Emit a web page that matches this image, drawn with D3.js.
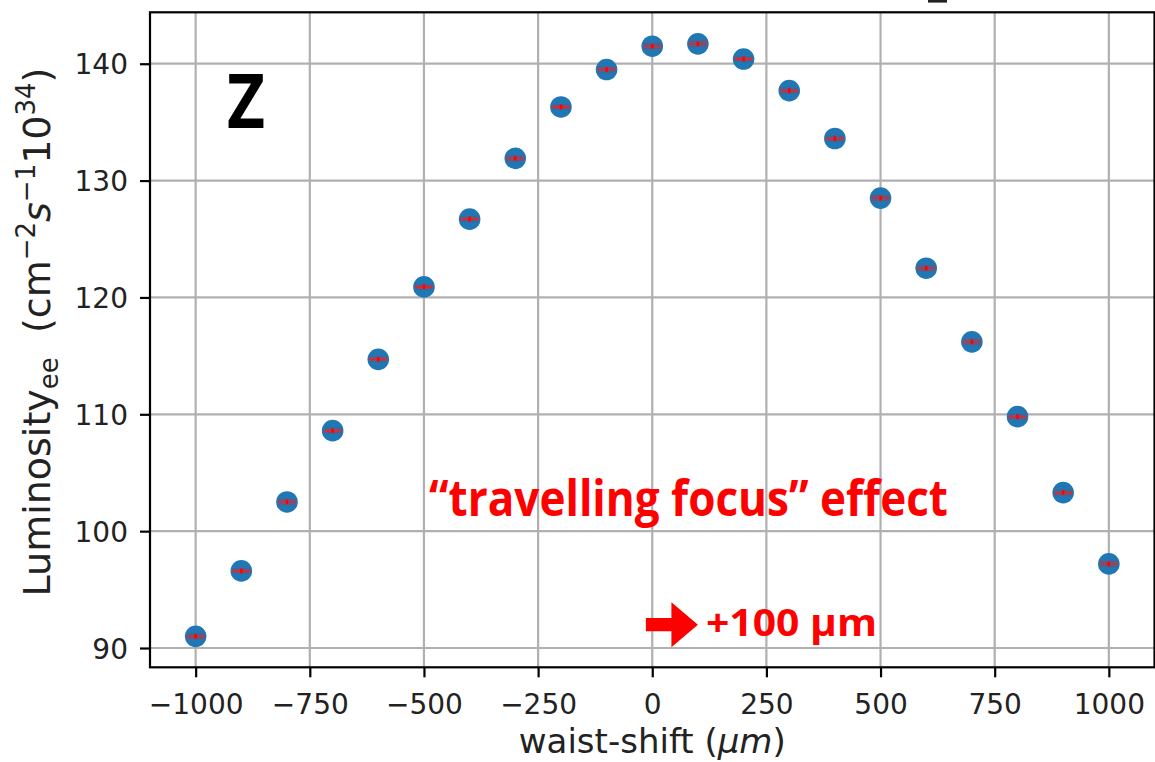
<!DOCTYPE html>
<html>
<head>
<meta charset="utf-8">
<script src="https://cdn.jsdelivr.net/npm/d3@7"></script>
<style>
  html, body { margin: 0; padding: 0; background: #fff; }
  svg { display: block; }
</style>
</head>
<body>
<svg id="chart" width="1155" height="762"></svg>
<script>
// Waist-shift scan: luminosity vs. longitudinal waist position
const waistShift = [-1000, -900, -800, -700, -600, -500, -400, -300, -200, -100,
                    0, 100, 200, 300, 400, 500, 600, 700, 800, 900, 1000];
const luminosity = [91.0, 96.6, 102.5, 108.6, 114.7, 120.9, 126.7, 131.9, 136.3, 139.5,
                    141.5, 141.7, 140.4, 137.7, 133.6, 128.5, 122.5, 116.2, 109.8, 103.3, 97.2];
const lumiError  = [0.2, 0.2, 0.2, 0.2, 0.2, 0.2, 0.2, 0.2, 0.2, 0.2,
                    0.2, 0.2, 0.2, 0.2, 0.2, 0.2, 0.2, 0.2, 0.2, 0.2, 0.2];
const xTicks = [-1000, -750, -500, -250, 0, 250, 500, 750, 1000];
const yTicks = [90, 100, 110, 120, 130, 140];
const xDomain = [-1100, 1100];
const yDomain = [88.35, 144.4];

const svg = d3.select("#chart");
const plot = { left: 150, right: 1154.5, top: 12.3, bottom: 667.3 };

const x = d3.scaleLinear().domain(xDomain).range([plot.left, plot.right]);
const y = d3.scaleLinear().domain(yDomain).range([plot.bottom, plot.top]);

const tickFont = "'DejaVu Sans', sans-serif";
const gridColor = "#b0b0b0";

// grid
const grid = svg.append("g");
grid.selectAll("line.gx").data(xTicks).join("line")
  .attr("x1", d => x(d)).attr("x2", d => x(d))
  .attr("y1", plot.top).attr("y2", plot.bottom)
  .attr("stroke", gridColor).attr("stroke-width", 2.2);
grid.selectAll("line.gy").data(yTicks).join("line")
  .attr("x1", plot.left).attr("x2", plot.right)
  .attr("y1", d => y(d)).attr("y2", d => y(d))
  .attr("stroke", gridColor).attr("stroke-width", 2.2);

// axes
const xAxis = svg.append("g")
  .attr("transform", `translate(0,${plot.bottom})`)
  .call(d3.axisBottom(x).tickValues(xTicks).tickSize(10).tickPadding(10)
        .tickFormat(d => d < 0 ? "\u2212" + Math.abs(d) : String(d)));
const yAxis = svg.append("g")
  .attr("transform", `translate(${plot.left},0)`)
  .call(d3.axisLeft(y).tickValues(yTicks).tickSize(10).tickPadding(12));

[xAxis, yAxis].forEach(g => {
  g.select(".domain").remove();
  g.selectAll(".tick line").attr("stroke", "#000").attr("stroke-width", 2.2);
  g.selectAll(".tick text").attr("fill", "#222")
    .style("font-family", tickFont).style("font-size", "28px");
});
xAxis.selectAll(".tick text").attr("dy", "0.95em");
yAxis.selectAll(".tick text").attr("dy", "0.36em");

// frame
svg.append("rect")
  .attr("x", plot.left).attr("y", plot.top)
  .attr("width", plot.right - plot.left).attr("height", plot.bottom - plot.top)
  .attr("fill", "none").attr("stroke", "#000").attr("stroke-width", 2.2);

// data points with error bars
const pts = waistShift.map((w, i) => ({ w, L: luminosity[i], e: lumiError[i] }));
const marks = svg.append("g");
marks.selectAll("circle").data(pts).join("circle")
  .attr("cx", d => x(d.w)).attr("cy", d => y(d.L))
  .attr("r", 10.8).attr("fill", "#1f77b4");

const eb = marks.selectAll("g.eb").data(pts).join("g").attr("class", "eb");
const capHalf = 9;
eb.append("line") // upper cap
  .attr("x1", d => x(d.w) - capHalf).attr("x2", d => x(d.w) + capHalf)
  .attr("y1", d => y(d.L + d.e)).attr("y2", d => y(d.L + d.e))
  .attr("stroke", "#d62728").attr("stroke-opacity", 0.55).attr("stroke-width", 1);
eb.append("line") // lower cap
  .attr("x1", d => x(d.w) - capHalf).attr("x2", d => x(d.w) + capHalf)
  .attr("y1", d => y(d.L - d.e)).attr("y2", d => y(d.L - d.e))
  .attr("stroke", "#d62728").attr("stroke-opacity", 0.55).attr("stroke-width", 1);
eb.append("line") // central marker
  .attr("x1", d => x(d.w) - capHalf).attr("x2", d => x(d.w) + capHalf)
  .attr("y1", d => y(d.L)).attr("y2", d => y(d.L))
  .attr("stroke", "#ff1a1a").attr("stroke-width", 1.6);
eb.append("line") // vertical error
  .attr("x1", d => x(d.w)).attr("x2", d => x(d.w))
  .attr("y1", d => y(d.L + d.e)).attr("y2", d => y(d.L - d.e))
  .attr("stroke", "#ff0000").attr("stroke-width", 2.5);

// axis labels
svg.append("text")
  .attr("x", (plot.left + plot.right) / 2).attr("y", 753)
  .attr("text-anchor", "middle").attr("fill", "#222")
  .style("font-family", tickFont).style("font-size", "34px")
  .call(t => {
    t.append("tspan").text("waist-shift (");
    t.append("tspan").attr("font-style", "italic").text("\u03bcm");
    t.append("tspan").text(")");
  });

const yl = svg.append("text")
  .attr("transform", "translate(50,332) rotate(-90)")
  .attr("text-anchor", "middle").attr("fill", "#222")
  .style("font-family", tickFont).style("font-size", "38px");
yl.append("tspan").text("Luminosity");
yl.append("tspan").attr("font-size", "26px").attr("dy", 8).text("ee");
yl.append("tspan").attr("dy", -8).text("\u00a0\u00a0(cm");
yl.append("tspan").attr("font-size", "26px").attr("dy", -15).text("\u22122");
yl.append("tspan").attr("dy", 15).attr("font-style", "italic").text("s");
yl.append("tspan").attr("font-size", "26px").attr("dy", -15).text("\u22121");
yl.append("tspan").attr("dy", 15).text("10");
yl.append("tspan").attr("font-size", "26px").attr("dy", -15).text("34");
yl.append("tspan").attr("dy", 15).text(")");

// bottom stroke of the title above the frame, just visible at the top edge
svg.append("rect").attr("x", 928).attr("y", 0).attr("width", 19).attr("height", 2.6)
  .attr("fill", "#222");

// annotations
const annFont = "'Open Sans', 'Lato', sans-serif";
svg.append("text").attr("x", 227).attr("y", 128)
  .attr("textLength", 38).attr("lengthAdjust", "spacingAndGlyphs")
  .style("font-family", annFont).style("font-weight", 700).style("font-size", "76px")
  .attr("fill", "#000").text("Z");

svg.append("text").attr("x", 429).attr("y", 516)
  .attr("textLength", 519).attr("lengthAdjust", "spacingAndGlyphs")
  .style("font-family", annFont).style("font-weight", 700).style("font-size", "50px")
  .attr("fill", "#ff0000").text("\u201ctravelling focus\u201d effect");

// arrow pointing to +100 µm
const arrowY = y(92.0);
const tipX = x(100), baseX = x(-14), headX = tipX - 26.5;
svg.append("path")
  .attr("d", `M${baseX},${arrowY - 6.7} L${headX},${arrowY - 6.7} L${headX},${arrowY - 22.5}
              L${tipX},${arrowY} L${headX},${arrowY + 22.5} L${headX},${arrowY + 6.7}
              L${baseX},${arrowY + 6.7} Z`)
  .attr("fill", "#ff0000");

svg.append("text").attr("x", 706).attr("y", 636)
  .attr("textLength", 171).attr("lengthAdjust", "spacingAndGlyphs")
  .style("font-family", annFont).style("font-weight", 700).style("font-size", "37px")
  .attr("fill", "#ff0000").text("+100 \u03bcm");
</script>
</body>
</html>
